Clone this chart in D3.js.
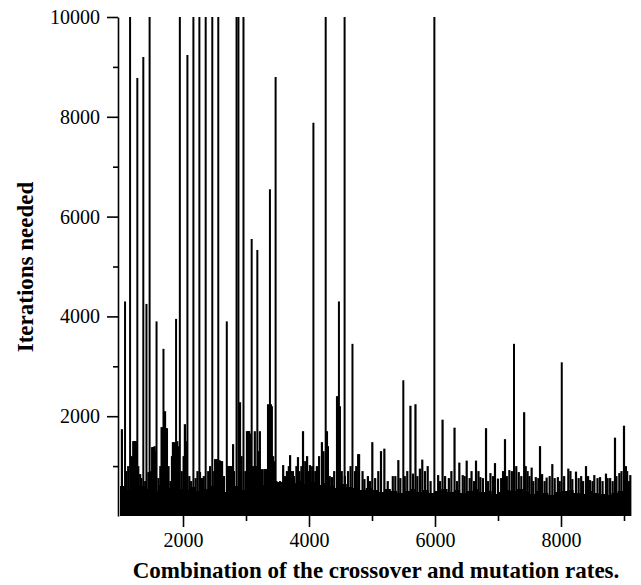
<!DOCTYPE html>
<html>
<head>
<meta charset="utf-8">
<script src="https://cdn.jsdelivr.net/npm/d3@7"></script>
<style>
body { margin: 0; background: #fff; }
</style>
</head>
<body>
<div id="chart"></div>
<script>
// dense noise floor, read every 100 combinations
var floorCombos = d3.range(1000, 9200, 100);
var floorIters = [
  600, 520, 560, 600, 540, 500, 620, 560, 480, 540,
  520, 580, 500, 540, 600, 520, 480, 560, 600, 520,
  600, 680, 620, 640, 700, 660, 600, 660, 700, 640,
  680, 620, 660, 600, 560, 640, 580, 560, 520, 560,
  520, 480, 540, 500, 460, 500, 540, 480, 520, 460,
  500, 540, 480, 520, 460, 500, 540, 480, 500, 440,
  480, 520, 500, 540, 480, 440, 500, 460, 420, 480,
  500, 520, 460, 440, 500, 460, 440, 420, 460, 500,
  520, 440
];

// tall spikes
var tallCombos = [1080, 1160, 1275, 1370, 1420, 1470, 1580, 1690, 1890, 1950,
  2070, 2165, 2260, 2360, 2465, 2560, 2695, 2850, 2880, 2960,
  3090, 3180, 3380, 3470, 4070, 4265, 4475, 4565, 4690, 5497,
  5990, 7254, 8012];
var tallIters = [4300, 10000, 8780, 9200, 4250, 10000, 3900, 3350, 3950, 10000,
  9240, 10000, 10000, 10000, 10000, 10000, 3900, 10000, 10000, 10000,
  5550, 5330, 6550, 8800, 7880, 10000, 4300, 10000, 3450, 2720,
  10000, 3450, 3080];

// medium peaks
var midCombos = [1030, 1210, 1240, 1265, 1320, 1510, 1550, 1660, 1690, 1715,
  1745, 1840, 1870, 1910, 2030, 2270, 2510, 2580, 2620, 2715,
  2750, 2780, 2795, 2905, 3015, 3040, 3065, 3140, 3220, 3255,
  3290, 3330, 3350, 3380, 3410, 3430, 3510, 3540, 3570, 3590,
  3700, 3745, 3825, 3905, 3970, 4015, 4125, 4205, 4285, 4365,
  4445, 4490, 4570, 4730, 4780, 4795, 4880, 4935, 5005, 5143,
  5196, 5330, 5418, 5560, 5610, 5690, 5760, 5798, 5884, 6050,
  6120, 6220, 6310, 6386, 6440, 6503, 6580, 6651, 6720, 6810,
  6880, 6952, 7050, 7111, 7180, 7330, 7415, 7470, 7534, 7600,
  7667, 7700, 7772, 7862, 7950, 8116, 8180, 8238, 8320, 8397,
  8460, 8529, 8620, 8714, 8780, 8857, 8926, 9000, 9050, 9100];
var midIters = [1740, 1500, 1500, 1480, 840, 1380, 1400, 1780, 1700, 2100,
  1760, 1480, 1450, 1500, 1840, 880, 1140, 1120, 1100, 1000,
  1000, 1000, 1440, 2280, 1700, 1700, 1650, 1700, 1700, 940,
  940, 940, 2240, 2240, 2200, 1200, 680, 700, 680, 1020,
  1220, 900, 1180, 1700, 1200, 1020, 1000, 1480, 1700, 780,
  2400, 2200, 800, 900, 1240, 1240, 740, 800, 1480, 1300,
  1350, 800, 1120, 900, 2210, 2240, 950, 1130, 1000, 820,
  1930, 760, 1770, 1070, 820, 1110, 900, 1110, 780, 1760,
  860, 1060, 760, 1540, 920, 880, 2080, 900, 970, 780,
  1400, 840, 770, 1040, 780, 950, 740, 890, 800, 1000,
  720, 820, 780, 850, 760, 1570, 860, 1810, 900, 820];

// low grass above the floor
var grassCombos = [1100, 1130, 1190, 1225, 1255, 1290, 1340, 1400, 1450, 1490,
  1525, 1540, 1565, 1610, 1640, 1675, 1705, 1730, 1770, 1800,
  1825, 1855, 1885, 1900, 1930, 1980, 2010, 2045, 2100, 2130,
  2200, 2230, 2300, 2330, 2400, 2430, 2495, 2530, 2550, 2600,
  2650, 2730, 2765, 2810, 2930, 2990, 3030, 3050, 3110, 3160,
  3200, 3240, 3310, 3395, 3450, 3620, 3650, 3680, 3720, 3760,
  3800, 3850, 3880, 3940, 4000, 4050, 4100, 4160, 4230, 4300,
  4330, 4400, 4460, 4520, 4620, 4660, 4750, 4850, 4970, 5050,
  5100, 5250, 5370, 5450, 5520, 5650, 5720, 5840, 5930, 6080,
  6160, 6260, 6350, 6470, 6550, 6620, 6690, 6760, 6840, 6920,
  7000, 7080, 7140, 7220, 7290, 7370, 7440, 7500, 7560, 7640,
  7740, 7820, 7900, 7980, 8050, 8150, 8280, 8350, 8430, 8500,
  8580, 8660, 8740, 8820, 8880, 8960, 9030, 9080];
var grassIters = [900, 1000, 1200, 1500, 1500, 1000, 760, 700, 880, 900,
  1380, 1380, 1300, 760, 1000, 1780, 1780, 1760, 1000, 700,
  1200, 1480, 1480, 1480, 1400, 900, 1200, 1500, 800, 700,
  760, 900, 760, 800, 900, 1000, 900, 1140, 1140, 1100,
  800, 1000, 1000, 900, 1200, 900, 1700, 1700, 1000, 1000,
  1300, 900, 940, 2240, 1100, 800, 900, 1000, 900, 800,
  1000, 900, 1000, 1100, 900, 1000, 900, 1200, 1300, 1400,
  800, 900, 2400, 900, 900, 1000, 1000, 900, 700, 760,
  900, 700, 800, 760, 800, 850, 800, 900, 700, 700,
  800, 900, 700, 800, 760, 700, 900, 760, 700, 800,
  750, 900, 800, 900, 1000, 800, 1000, 800, 700, 760,
  700, 800, 760, 700, 800, 900, 760, 700, 800, 700,
  760, 700, 760, 700, 800, 900, 1000, 700];

var xMajor = [2000, 4000, 6000, 8000];
var xMinor = [3000, 5000, 7000, 9000];
var yMajor = [2000, 4000, 6000, 8000, 10000];
var yMinor = [1000, 3000, 5000, 7000, 9000];

var margin = {top: 17, right: 17, bottom: 69, left: 120},
    width = 641 - margin.left - margin.right,
    height = 585 - margin.top - margin.bottom;

var serif = "'Liberation Serif', 'Times New Roman', serif";

var x = d3.scaleLinear()
    .domain([1000, 9000])
    .range([0, width]);

var y = d3.scaleLinear()
    .domain([0, 10000])
    .range([height, 0]);

var svg = d3.select("#chart")
  .append("svg")
    .attr("width", 641)
    .attr("height", 585)
  .append("g")
    .attr("transform", "translate(" + margin.left + "," + margin.top + ")");

// noise floor
var floorArea = d3.area()
    .curve(d3.curveStepAfter)
    .x(function(d, i) { return x(floorCombos[i]); })
    .y0(height)
    .y1(function(d) { return y(d); });

svg.append("path")
    .datum(floorIters)
    .attr("d", floorArea)
    .attr("fill", "#000");

var spike = d3.line()
    .x(function(d) { return x(d[0]); })
    .y(function(d) { return y(d[1]); });

function drawSpikes(cls, combos, iters, w) {
  svg.selectAll("." + cls)
      .data(combos)
    .enter().append("path")
      .attr("class", cls)
      .attr("d", function(d, i) { return spike([[d, 0], [d, iters[i]]]); })
      .attr("stroke", "#000")
      .attr("stroke-width", w);
}

drawSpikes("grass", grassCombos, grassIters, 2.2);
drawSpikes("mid", midCombos, midIters, 2.2);
drawSpikes("tall", tallCombos, tallIters, 2);

// axes
svg.append("g")
    .attr("transform", "translate(-2,0)")
    .call(d3.axisLeft(y).tickValues(yMajor).tickSize(11).tickSizeOuter(0)
      .tickPadding(7).tickFormat(d3.format("d")));

svg.append("g")
    .attr("transform", "translate(-2,0)")
    .call(d3.axisLeft(y).tickValues(yMinor).tickSize(5).tickFormat(""))
    .select(".domain").remove();

var xAxis = svg.append("g")
    .attr("transform", "translate(0," + height + ")")
    .call(d3.axisBottom(x).tickValues(xMajor).tickSize(11).tickFormat(d3.format("d")));
xAxis.select(".domain").remove();
xAxis.selectAll("text").attr("y", 31).attr("dy", 0);

svg.append("g")
    .attr("transform", "translate(0," + height + ")")
    .call(d3.axisBottom(x).tickValues(xMinor).tickSize(5).tickFormat(""))
    .select(".domain").remove();

svg.selectAll(".tick line, .domain")
    .attr("stroke", "#000")
    .attr("stroke-width", 1.6);

svg.selectAll(".tick text")
    .attr("fill", "#000")
    .style("font-family", serif)
    .style("font-size", "20px");

// titles
svg.append("text")
    .attr("transform", "translate(" + (33 - margin.left) + "," + (267 - margin.top) + ") rotate(-90)")
    .attr("text-anchor", "middle")
    .style("font-family", serif)
    .style("font-weight", "bold")
    .style("font-size", "23px")
    .text("Iterations needed");

svg.append("text")
    .attr("x", 376 - margin.left)
    .attr("y", 578 - margin.top)
    .attr("text-anchor", "middle")
    .style("font-family", serif)
    .style("font-weight", "bold")
    .style("font-size", "23px")
    .text("Combination of the crossover and mutation rates.");
</script>
</body>
</html>
